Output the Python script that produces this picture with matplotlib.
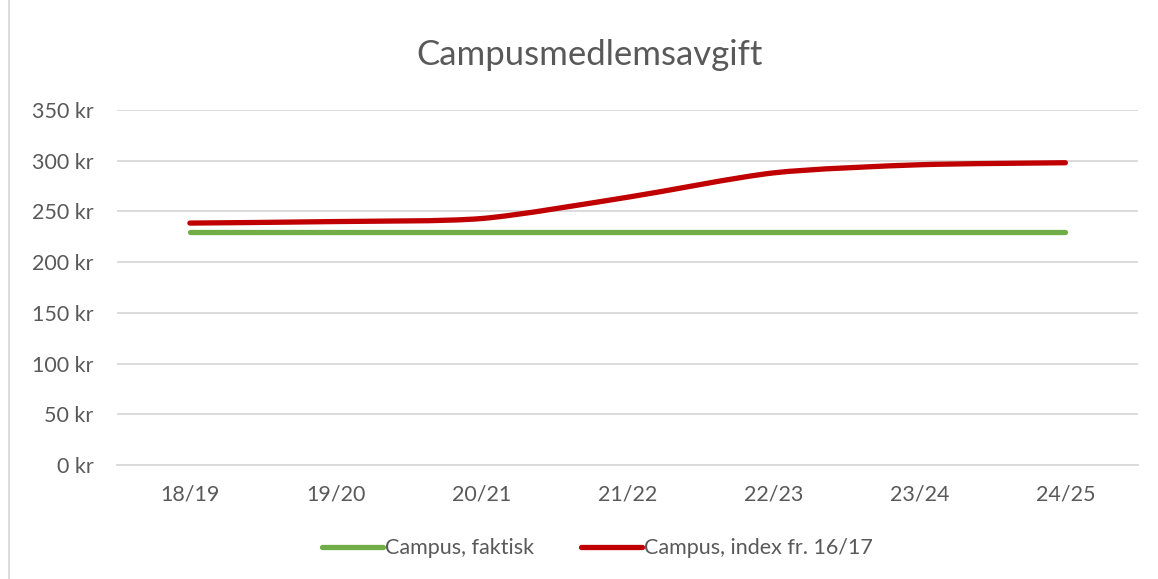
import matplotlib
matplotlib.use('Agg')
import matplotlib.pyplot as plt
from matplotlib.path import Path
from matplotlib.patches import PathPatch, Rectangle
from matplotlib.lines import Line2D

seasons = ['18/19', '19/20', '20/21', '21/22', '22/23', '23/24', '24/25']
faktisk = [230, 230, 230, 230, 230, 230, 230]
index_1617 = [238.5, 240, 243, 264, 288, 296, 298]

GREEN = '#70AD47'
RED = '#C00000'
TXT = '#595959'

plt.rcParams['font.family'] = ['Lato', 'DejaVu Sans']


def smooth_path(xs, ys, k=8.0):
    # Excel-style smoothed line: cubic bezier segments through the points
    verts = [(xs[0], ys[0])]
    codes = [Path.MOVETO]
    n = len(xs)
    for i in range(n - 1):
        x0, y0 = xs[max(i - 1, 0)], ys[max(i - 1, 0)]
        x1, y1 = xs[i], ys[i]
        x2, y2 = xs[i + 1], ys[i + 1]
        x3, y3 = xs[min(i + 2, n - 1)], ys[min(i + 2, n - 1)]
        c1 = (x1 + (x2 - x0) / k, y1 + (y2 - y0) / k)
        c2 = (x2 - (x3 - x1) / k, y2 - (y3 - y1) / k)
        verts += [c1, c2, (x2, y2)]
        codes += [Path.CURVE4] * 3
    return Path(verts, codes)


fig = plt.figure(figsize=(11.58, 5.79), dpi=100)
ax = fig.add_axes([0.101, 0.197, 0.882, 0.613])

x = list(range(len(seasons)))
ax.plot(x, faktisk, color=GREEN, lw=3.8, solid_capstyle='round', zorder=3)
ax.add_patch(PathPatch(smooth_path(x, index_1617), facecolor='none', edgecolor=RED,
                       lw=3.8, capstyle='round', zorder=4))

ax.set_xlim(-0.5, len(seasons) - 0.5)
ax.set_ylim(0, 350)
ax.set_yticks(range(0, 351, 50))
ax.set_yticklabels(['{} kr'.format(v) for v in range(0, 351, 50)])
ax.set_xticks(x)
ax.set_xticklabels(seasons)
ax.grid(axis='y', color='#D9D9D9', lw=1.3)
ax.set_axisbelow(True)
for s in ['top', 'right', 'left']:
    ax.spines[s].set_visible(False)
ax.spines['bottom'].set_color('#D9D9D9')
ax.spines['bottom'].set_linewidth(1.3)
ax.tick_params(length=0, colors=TXT, labelsize=15.5)
ax.tick_params(axis='x', pad=14)
ax.tick_params(axis='y', pad=17)

fig.text(0.509, 0.905, 'Campusmedlemsavgift', ha='center', va='center', fontsize=25, color=TXT)

handles = [Line2D([], [], color=GREEN, lw=3.8, solid_capstyle='round'),
           Line2D([], [], color=RED, lw=3.8, solid_capstyle='round')]
fig.legend(handles, ['Campus, faktisk', 'Campus, index fr. 16/17'], loc='center',
           bbox_to_anchor=(0.516, 0.053), ncol=2, frameon=False, fontsize=15.5,
           handlelength=2.8, handletextpad=0.1, columnspacing=2.2, labelcolor=TXT)

fig.add_artist(Rectangle((0.008, -0.01), 1.2, 1.2, transform=fig.transFigure,
                         fill=False, edgecolor='#D9D9D9', lw=1.3))

plt.savefig('out.png', dpi=100)
